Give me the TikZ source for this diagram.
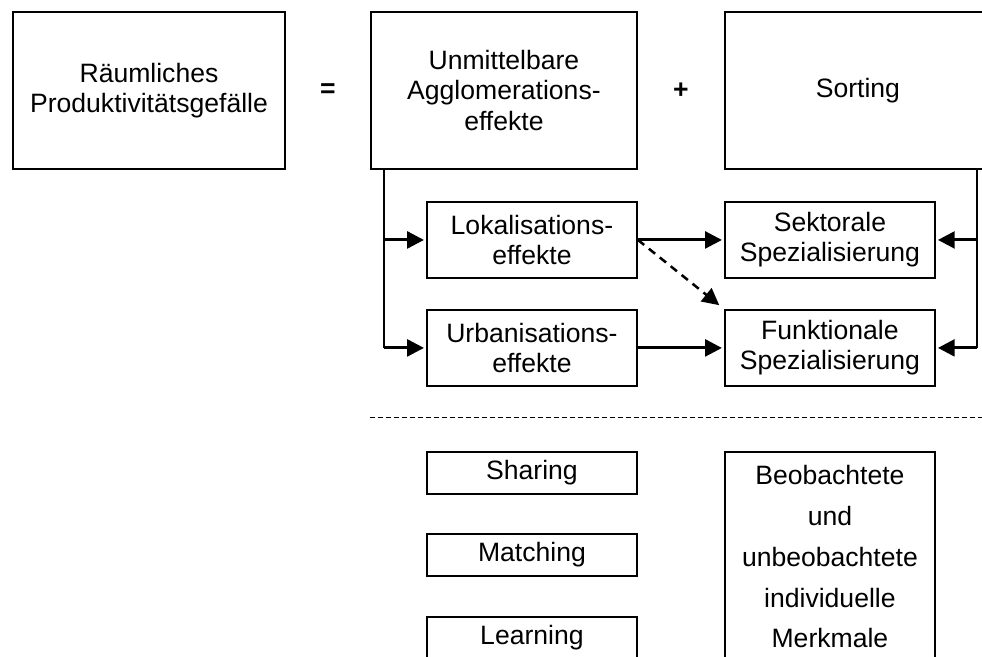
\documentclass[tikz,border=0pt]{standalone}
\usepackage{fontspec}
\setmainfont{Liberation Sans}
\usetikzlibrary{positioning, arrows.meta}
\tikzset{every node/.style={node distance=2cm, font=\fontsize{18.9}{21.5}\selectfont}}

\begin{document}
\begin{tikzpicture}[big/.style={draw, line width=1.4pt, minimum width=6.65cm, minimum height=3.925cm, align=center, inner sep=0pt},
    small/.style={draw, line width=1.4pt, minimum width=5.25cm, minimum height=1.9cm, align=center, inner sep=0pt},
    mech/.style={small, minimum height=1.05cm},
    op/.style={font=\fontsize{18.9}{21.5}\selectfont\bfseries},
    arr/.style={line width=2.1pt, shorten >=0.05cm, -{Triangle[length=0.42cm, width=0.42cm]}},
    link/.style={line width=1.2pt},
    sep/.style={line width=0.7pt, dash pattern=on 0.125cm off 0.075cm}]

    \useasboundingbox (0,0) rectangle (24.55,-16.425);
    \clip (0,0) rectangle (24.55,-16.425);

    % Top row
    \node[big, minimum width=6.8cm, anchor=north west] (raeum) at (0.3,-0.275) {R\"aumliches\\Produktivit\"atsgef\"alle};
    \node[big] (unmit) [right=2.1cm of raeum] {Unmittelbare\\Agglomerations-\\effekte};
    \node[big] (sort) [right=2.15cm of unmit] {Sorting};
    \path (raeum) -- node[op] (eq) {=} (unmit);
    \path (unmit) -- node[op] (plus) {+} (sort);

    % Effects
    \node[small] (lok) [below right=0.775cm and 1.4cm of unmit.south west] {Lokalisations-\\effekte};
    \node[small] (sekt) [right=2.15cm of lok] {Sektorale\\Spezialisierung};
    \node[small] (urb) [below=0.75cm of lok] {Urbanisations-\\effekte};
    \node[small] (funk) [below=0.75cm of sekt] {Funktionale\\Spezialisierung};

    % Mechanisms
    \node[mech] (share) [below=1.6cm of urb] {Sharing};
    \node[mech] (match) [below=0.95cm of share] {Matching};
    \node[mech] (learn) [below=0.975cm of match] {Learning};
    \node[small, anchor=north, inner ysep=0.33cm, font=\fontsize{18.9}{29.1}\selectfont] (merk) [below=1.6cm of funk]
        {Beobachtete\\und\\unbeobachtete\\individuelle\\Merkmale};

    % Arrows
    \coordinate (lv) at ([xshift=0.35cm]unmit.south west);
    \coordinate (rv) at ([xshift=-0.38cm]sort.south east);
    \draw[link] (lv) -- (lv |- urb.west);
    \draw[arr] (lv |- lok.west) -- (lok);
    \draw[arr] (lv |- urb.west) -- (urb);
    \draw[link] (rv) -- (rv |- funk.east);
    \draw[arr] (rv |- sekt.east) -- (sekt);
    \draw[arr] (rv |- funk.east) -- (funk);
    \draw[arr] (lok) -- (sekt);
    \draw[arr] (urb) -- (funk);
    \draw[arr, line width=1.8pt, dash pattern=on 0.2cm off 0.15cm, shorten >=0.15cm] (lok.east) -- (funk.north west);

    \draw[sep] ([yshift=-0.775cm]urb.south -| unmit.west) -- ++(16,0);

\end{tikzpicture}
\end{document}
